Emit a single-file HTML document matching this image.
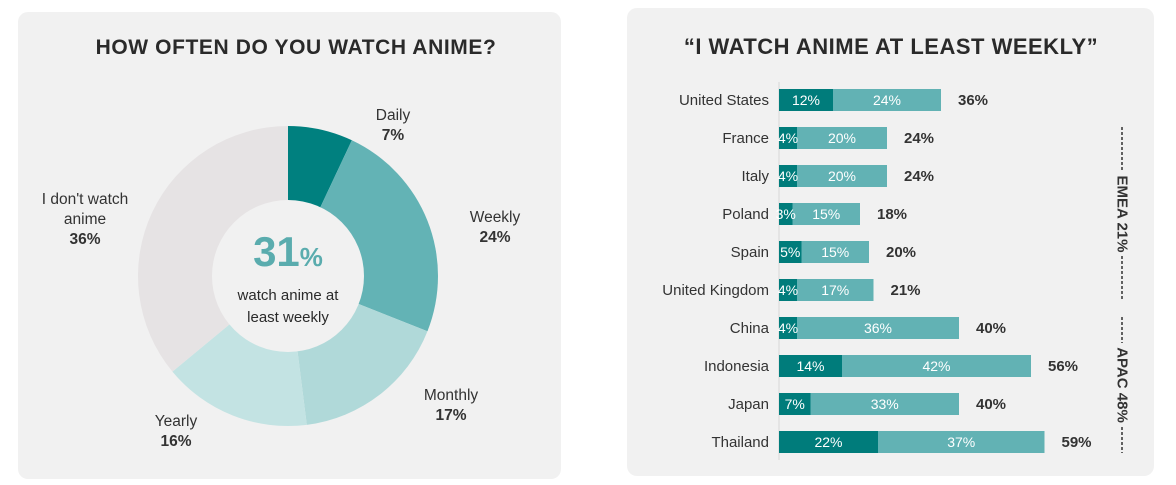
<!DOCTYPE html>
<html><head><meta charset="utf-8">
<style>
body{margin:0;width:1176px;height:485px;background:#fff;font-family:"Liberation Sans",sans-serif;position:relative;overflow:hidden}
.panel{position:absolute;background:#f1f1f1;border-radius:10px}
svg{position:absolute;left:0;top:0}
</style></head><body>
<div class="panel" style="left:18px;top:12px;width:543px;height:467px"></div>
<div class="panel" style="left:627px;top:8px;width:527px;height:468px"></div>
<svg id="s" width="1176" height="485">
<text x="296" y="54" text-anchor="middle" font-size="21" font-weight="bold" fill="#2a2a2a" letter-spacing="0.6">HOW OFTEN DO YOU WATCH ANIME?</text>
<text x="891" y="54" text-anchor="middle" font-size="22" font-weight="bold" fill="#2a2a2a" letter-spacing="0.5">“I WATCH ANIME AT LEAST WEEKLY”</text>
<g id="donut"></g>
<g id="bars"></g>
</svg>
<script>
const sliceLabels=["Daily","Weekly","Monthly","Yearly","I don't watch|anime"];
const sliceValues=[7,24,17,16,36];
const sliceColors=["#00807f","#63b3b5","#b0d9d9","#c3e3e3","#e6e3e4"];
const labelPos=[[393,120],[495,222],[451,400],[176,426],[85,204]];
const countries=["United States","France","Italy","Poland","Spain","United Kingdom","China","Indonesia","Japan","Thailand"];
const dailyVals=[12,4,4,3,5,4,4,14,7,22];
const weeklyVals=[24,20,20,15,15,17,36,42,33,37];
const totalVals=[36,24,24,18,20,21,40,56,40,59];
const regions=["EMEA 21%","APAC 48%"];
const regionRows=[[1,5],[6,9]];
const NS="http://www.w3.org/2000/svg";
function mk(t,a,p){const e=document.createElementNS(NS,t);for(const k in a)e.setAttribute(k,a[k]);p.appendChild(e);return e;}
const d=document.getElementById('donut');
const cx=288,cy=276,R=150,r=76;
const tot=sliceValues.reduce((a,b)=>a+b,0);
let acc=0;
sliceValues.forEach((v,i)=>{
 const a0=acc/tot*2*Math.PI,a1=(acc+v)/tot*2*Math.PI;acc+=v;
 const p=(a,rad)=>[cx+rad*Math.sin(a),cy-rad*Math.cos(a)];
 const [x0,y0]=p(a0,R),[x1,y1]=p(a1,R);const lg=(a1-a0)>Math.PI?1:0;
 const s=mk('path',{d:`M${cx},${cy}L${x0},${y0}A${R},${R} 0 ${lg} 1 ${x1},${y1}Z`,fill:sliceColors[i]},d);
 
 
 const lines=sliceLabels[i].split('|').concat([v+'%']);
 const t=mk('text',{x:labelPos[i][0],'text-anchor':'middle','font-size':15.5,fill:'#333'},d);
 
 
 lines.forEach((l,j)=>{const ts=mk('tspan',{x:labelPos[i][0],y:labelPos[i][1]+j*20},t);ts.textContent=l;if(j==lines.length-1)ts.setAttribute('font-weight','bold');});
});
const hole=mk('circle',{cx:cx,cy:cy,r:r,fill:'#f1f1f1'},d);


const big=mk('text',{x:cx,y:266,'text-anchor':'middle',fill:'#5aacae','font-weight':'bold'},d);


big.innerHTML='<tspan font-size="42">31</tspan><tspan font-size="26">%</tspan>';
const sub=mk('text',{x:cx,'text-anchor':'middle','font-size':15,fill:'#2a2a2a'},d);


sub.innerHTML='<tspan x="'+cx+'" y="300">watch anime at</tspan><tspan x="'+cx+'" y="322">least weekly</tspan>';
const b=document.getElementById('bars');
const x0=779,k=4.5,y0=100,step=38,bh=22;
const X=v=>x0+v*k,Y=i=>y0+i*step;
const ax=mk('line',{x1:x0,x2:x0,y1:82,y2:460,stroke:'#d8d8d8'},b);


countries.forEach((c,i)=>{
 const y=Y(i);
 const lb=mk('text',{x:769,y:y+5,'text-anchor':'end','font-size':15,fill:'#333'},b);lb.textContent=c;
 
 
 const r1=mk('rect',{x:X(0),y:y-bh/2,width:X(dailyVals[i])-X(0),height:bh,fill:'#007c7b'},b);
 
 
 const r2=mk('rect',{x:X(dailyVals[i]),y:y-bh/2,width:X(dailyVals[i]+weeklyVals[i])-X(dailyVals[i]),height:bh,fill:'#62b2b4'},b);
 
 
 const t1=mk('text',{x:(X(0)+X(dailyVals[i]))/2,y:y+5,'text-anchor':'middle','font-size':14,fill:'#fff'},b);t1.textContent=dailyVals[i]+'%';
 
 
 const t2=mk('text',{x:(X(dailyVals[i])+X(dailyVals[i]+weeklyVals[i]))/2,y:y+5,'text-anchor':'middle','font-size':14,fill:'#fff'},b);t2.textContent=weeklyVals[i]+'%';
 
 
 const t3=mk('text',{x:X(totalVals[i])+17,y:y+5,'font-size':15,'font-weight':'bold',fill:'#333'},b);t3.textContent=totalVals[i]+'%';
 
 
});
regions.forEach((g,j)=>{
 const ya=Y(regionRows[j][0])-step/2+8,yb=Y(regionRows[j][1])+step/2-8,ym=(ya+yb)/2,xx=1122;
 const l1=mk('line',{x1:xx,x2:xx,y1:ya,y2:ym-42,stroke:'#333','stroke-dasharray':'3,2','stroke-width':1.5},b);
 
 
 const l2=mk('line',{x1:xx,x2:xx,y1:ym+42,y2:yb,stroke:'#333','stroke-dasharray':'3,2','stroke-width':1.5},b);
 
 
 const t=mk('text',{x:xx,y:ym,'text-anchor':'middle','font-size':15,'font-weight':'bold',fill:'#333','dominant-baseline':'central',transform:`rotate(90 ${xx} ${ym})`},b);t.textContent=g;
 
 
});
</script>
</body></html>
